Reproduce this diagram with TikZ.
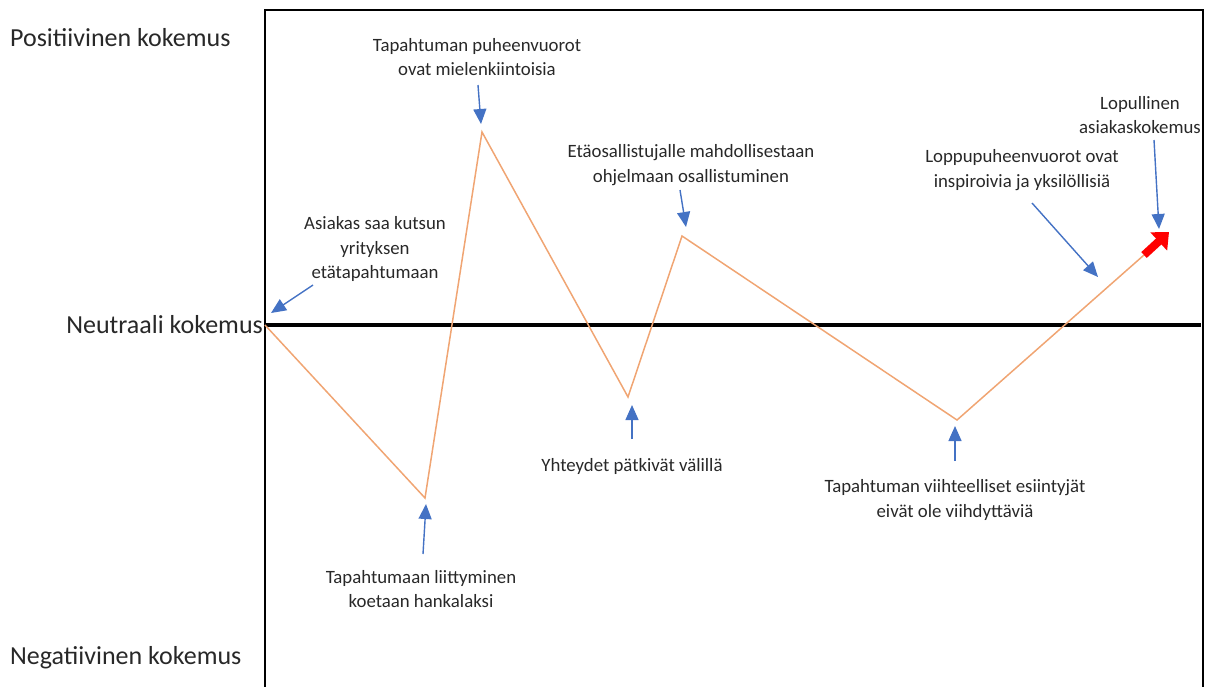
\documentclass[tikz,border=0pt]{standalone}
\usepackage{fontspec}
\setmainfont{Carlito}
\usetikzlibrary{arrows.meta}
\definecolor{polku}{RGB}{240,165,115}
\definecolor{nuoli}{RGB}{68,114,196}
\definecolor{teksti}{RGB}{40,40,40}
\tikzstyle{lbl}=[align=center, font=\fontsize{18.8}{24.5}\selectfont, text=teksti, inner sep=0pt]
\tikzstyle{side}=[font=\fontsize{26}{30}\selectfont, text=teksti, inner sep=0pt]
\tikzstyle{pil}=[draw=nuoli, line width=1.4pt, -{Triangle[width=13pt,length=15pt]}]

\begin{document}
\begin{tikzpicture}[x=1pt, y=-1pt]
    \useasboundingbox (0,0) rectangle (1206,686);
    % kehys ja neutraali taso
    \coordinate (bl) at (265,690);
    \coordinate (tl) at (265,10);
    \coordinate (tr) at (1203,10);
    \coordinate (br) at (1203,690);
    \coordinate (n0) at (265,325);
    \coordinate (n1) at (1201,325);
    \draw[line width=2pt] (bl) -- (tl) -- (tr) -- (br);
    \draw[line width=3.5pt] (n0) -- (n1);
    % kokemuspolku
    \coordinate (p0) at (265,325);
    \coordinate (p1) at (425,498);
    \coordinate (p2) at (482,132);
    \coordinate (p3) at (628,397);
    \coordinate (p4) at (682,236);
    \coordinate (p5) at (957,420);
    \coordinate (p6) at (1144,255);
    \coordinate (p7) at (1169,232);
    \draw[polku, line width=1.5pt] (p0) -- (p1) -- (p2) -- (p3) -- (p4) -- (p5) -- (p6);
    \draw[red, line width=8pt, -{Triangle[width=24pt,length=14pt]}] (p6) -- (p7);
    % asteikko
    \node[side, anchor=west] (pos) at (10,38) {Positiivinen kokemus};
    \node[side, anchor=east] (neu) at (263,325) {Neutraali kokemus};
    \node[side, anchor=west] (neg) at (10,658) {Negatiivinen kokemus};
    % tapahtumat
    \node[lbl] (kutsu) at (375,249) {Asiakas saa kutsun\\yrityksen\\etätapahtumaan};
    \node[lbl] (liitt) at (421,589) {Tapahtumaan liittyminen\\koetaan hankalaksi};
    \node[lbl] (puhe) at (477,57) {Tapahtuman puheenvuorot\\ovat mielenkiintoisia};
    \node[lbl] (yht) at (632,466) {Yhteydet pätkivät välillä};
    \node[lbl] (eta) at (691,165) {Etäosallistujalle mahdollisestaan\\ohjelmaan osallistuminen};
    \node[lbl] (viih) at (955,500) {Tapahtuman viihteelliset esiintyjät\\eivät ole viihdyttäviä};
    \node[lbl] (loppu) at (1022,170) {Loppupuheenvuorot ovat\\inspiroivia ja yksilöllisiä};
    \node[lbl] (lop) at (1140,115) {Lopullinen\\asiakaskokemus};
    % nuolet
    \coordinate (a1) at (313,285);
    \coordinate (b1) at (271,313);
    \coordinate (a2) at (423,554);
    \coordinate (b2) at (426,504);
    \coordinate (a3) at (478,85);
    \coordinate (b3) at (481,124);
    \coordinate (a4) at (632,439);
    \coordinate (b4) at (632,405);
    \coordinate (a5) at (680,190);
    \coordinate (b5) at (686,227);
    \coordinate (a6) at (955,461);
    \coordinate (b6) at (955,426);
    \coordinate (a7) at (1032,203);
    \coordinate (b7) at (1098,277);
    \coordinate (a8) at (1154,140);
    \coordinate (b8) at (1159,229);
    \draw[pil] (a1) -- (b1);
    \draw[pil] (a2) -- (b2);
    \draw[pil] (a3) -- (b3);
    \draw[pil] (a4) -- (b4);
    \draw[pil] (a5) -- (b5);
    \draw[pil] (a6) -- (b6);
    \draw[pil] (a7) -- (b7);
    \draw[pil] (a8) -- (b8);
\end{tikzpicture}
\end{document}
